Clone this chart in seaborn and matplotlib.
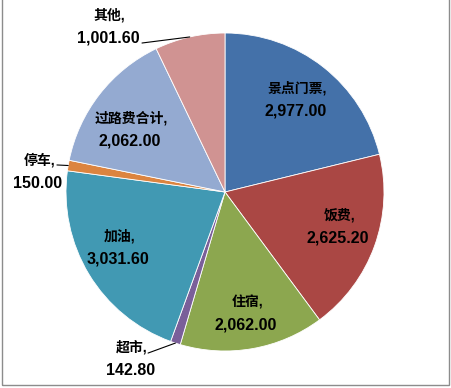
import numpy as np
import matplotlib
matplotlib.use("Agg")
import matplotlib.pyplot as plt
import seaborn as sns
from matplotlib.patches import Rectangle

sns.set_theme(style="white")
plt.rcParams['font.family'] = ['Liberation Sans', 'Noto Sans CJK SC']

# data (clockwise from 12 o'clock)
categories = ["景点门票", "饭费", "住宿", "超市", "加油", "停车", "过路费合计", "其他"]
values = [2977.00, 2625.20, 2062.00, 142.80, 3031.60, 150.00, 2062.00, 1001.60]
colors = ["#4471A9", "#AA4744", "#8CA74F", "#7A5F9A", "#4199B3", "#DC843F", "#94AAD1", "#D09392"]

# label layout: centre of each label block, relative to the pie centre in radius units
label_pos = {
    "景点门票": (0.447, 0.582),
    "饭费": (0.711, -0.220),
    "住宿": (0.129, -0.767),
    "超市": (-0.597, -1.050),
    "加油": (-0.673, -0.352),
    "停车": (-1.179, 0.126),
    "过路费合计": (-0.597, 0.393),
    "其他": (-0.736, 1.038),
}
# start of leader lines for the labels outside the pie
leader_start = {"超市": (-0.484, -1.013), "停车": (-1.057, 0.17), "其他": (-0.522, 0.937)}

fig = plt.figure(figsize=(4.51, 3.88), dpi=100)
ax = fig.add_axes([0, 0, 1, 1])

R = 159.0  # pie radius in px
wedges, _ = ax.pie(values, colors=colors, startangle=90, counterclock=False,
                   radius=1.0, wedgeprops=dict(edgecolor="white", linewidth=0.6))

# centre at (225, 192) px from top-left
ax.set_xlim(-225 / R, (451 - 225) / R)
ax.set_ylim(-(388 - 192) / R, 192 / R)
ax.set_aspect("auto")
ax.axis("off")

half = 11.5 / R  # half the line gap
for w, cat, val in zip(wedges, categories, values):
    lx, ly = label_pos[cat]
    ax.text(lx + 0.01, ly + half, f"{cat},", ha="center", va="center", fontsize=10,
            fontweight="bold", color="black")
    ax.text(lx, ly - half, f"{val:,.2f}", ha="center", va="center", fontsize=11.5,
            fontweight="bold", color="black")
    if cat in leader_start:
        mid = np.deg2rad((w.theta1 + w.theta2) / 2)
        sx, sy = leader_start[cat]
        ax.plot([sx, np.cos(mid)], [sy, np.sin(mid)], color="black", lw=0.8)

# chart-area border
fig.patches.append(Rectangle((2 / 451, 3.5 / 388), 447 / 451, 390 / 388,
                             transform=fig.transFigure, fill=False,
                             edgecolor="#8C8C8C", linewidth=1.0))

fig.savefig("out.png", dpi=100)
